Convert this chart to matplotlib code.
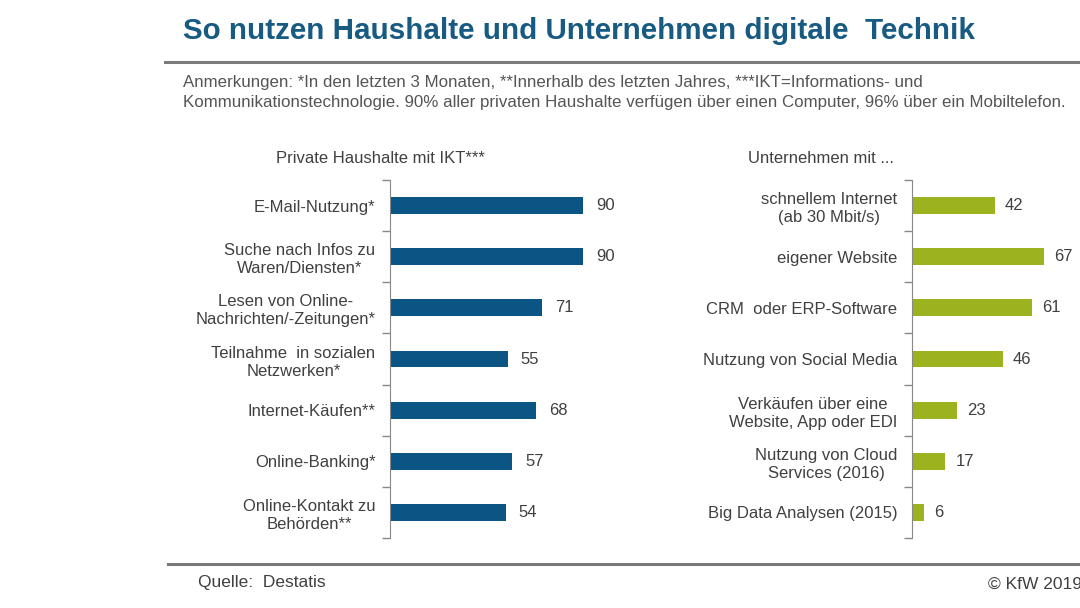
import matplotlib.pyplot as plt

# Daten (Prozent)
haushalte_labels = ['E-Mail-Nutzung*', 'Suche nach Infos zu\nWaren/Diensten*',
                    'Lesen von Online-\nNachrichten/-Zeitungen*', 'Teilnahme  in sozialen\nNetzwerken*',
                    'Internet-Käufen**', 'Online-Banking*', 'Online-Kontakt zu\nBehörden**']
haushalte_werte = [90, 90, 71, 55, 68, 57, 54]

unternehmen_labels = ['schnellem Internet\n(ab 30 Mbit/s)', 'eigener Website', 'CRM  oder ERP-Software',
                      'Nutzung von Social Media', 'Verkäufen über eine\nWebsite, App oder EDI',
                      'Nutzung von Cloud\nServices (2016)', 'Big Data Analysen (2015)']
unternehmen_werte = [42, 67, 61, 46, 23, 17, 6]

blau = '#0b5585'
gruen = '#9cb21f'
textfarbe = '#404040'

plt.rcParams['font.family'] = ['Liberation Sans', 'DejaVu Sans']

W, H = 1080, 608
fig = plt.figure(figsize=(W / 100, H / 100), dpi=100)


def panel(x0, x1, labels, werte, farbe, xmax):
    # x0 = Pixelposition der Achse, x1 = Pixel fuer Wert xmax
    ax = fig.add_axes([x0 / W, 1 - 538 / H, (x1 - x0) / W, 358 / H])
    n = len(werte)
    pos = list(range(n))
    ax.barh(pos, werte, height=0.33, color=farbe)
    for p, v in zip(pos, werte):
        ax.text(v + 6 * xmax / 100, p, str(v), va='center', ha='left',
                fontsize=12, color=textfarbe)
    ax.set_ylim(n - 0.5, -0.5)
    ax.set_xlim(0, xmax)
    ax.set_yticks(pos)
    ax.set_yticklabels(labels, fontsize=12, color=textfarbe, multialignment='center',
                       linespacing=1.25)
    ax.set_yticks([p - 0.5 for p in range(n + 1)], minor=True)
    ax.tick_params(axis='y', which='major', length=0, pad=10.5)
    ax.tick_params(axis='y', which='minor', length=6, width=1, color='#888888')
    ax.set_xticks([])
    for s in ['top', 'right', 'bottom']:
        ax.spines[s].set_visible(False)
    ax.spines['left'].set_color('#888888')
    ax.patch.set_alpha(0)
    return ax


panel(390, 390 + 193 / 90 * 100, haushalte_labels, haushalte_werte, blau, 100)
panel(912, 912 + 132 / 67 * 85, unternehmen_labels, unternehmen_werte, gruen, 85)

# Titel und Texte
fig.text(183 / W, 1 - 31 / H, 'So nutzen Haushalte und Unternehmen digitale  Technik',
         fontsize=21.3, fontweight='bold', color='#175a82', va='center', ha='left')
fig.add_artist(plt.Line2D([165 / W, 1], [1 - 62 / H] * 2, color='#7a7a7a', lw=2.2))
fig.text(183 / W, 1 - 83 / H,
         'Anmerkungen: *In den letzten 3 Monaten, **Innerhalb des letzten Jahres, '
         '***IKT=Informations- und', fontsize=12.2, color='#555555', va='center')
fig.text(183 / W, 1 - 102 / H,
         'Kommunikationstechnologie. 90% aller privaten Haushalte verfügen über einen Computer, '
         '96% über ein Mobiltelefon.', fontsize=12.2, color='#555555', va='center')

fig.text(276 / W, 1 - 158 / H, 'Private Haushalte mit IKT***', fontsize=12,
         color=textfarbe, va='center')
fig.text(748 / W, 1 - 158 / H, 'Unternehmen mit ...', fontsize=12,
         color=textfarbe, va='center')

fig.add_artist(plt.Line2D([168 / W, 1], [1 - 564 / H] * 2, color='#7a7a7a', lw=2.2))
fig.text(198 / W, 1 - 582 / H, 'Quelle:  Destatis', fontsize=12.5, color=textfarbe, va='center')
fig.text(988 / W, 1 - 584 / H, '© KfW 2019', fontsize=12.5, color=textfarbe, va='center')

fig.savefig('out.png', dpi=100)
